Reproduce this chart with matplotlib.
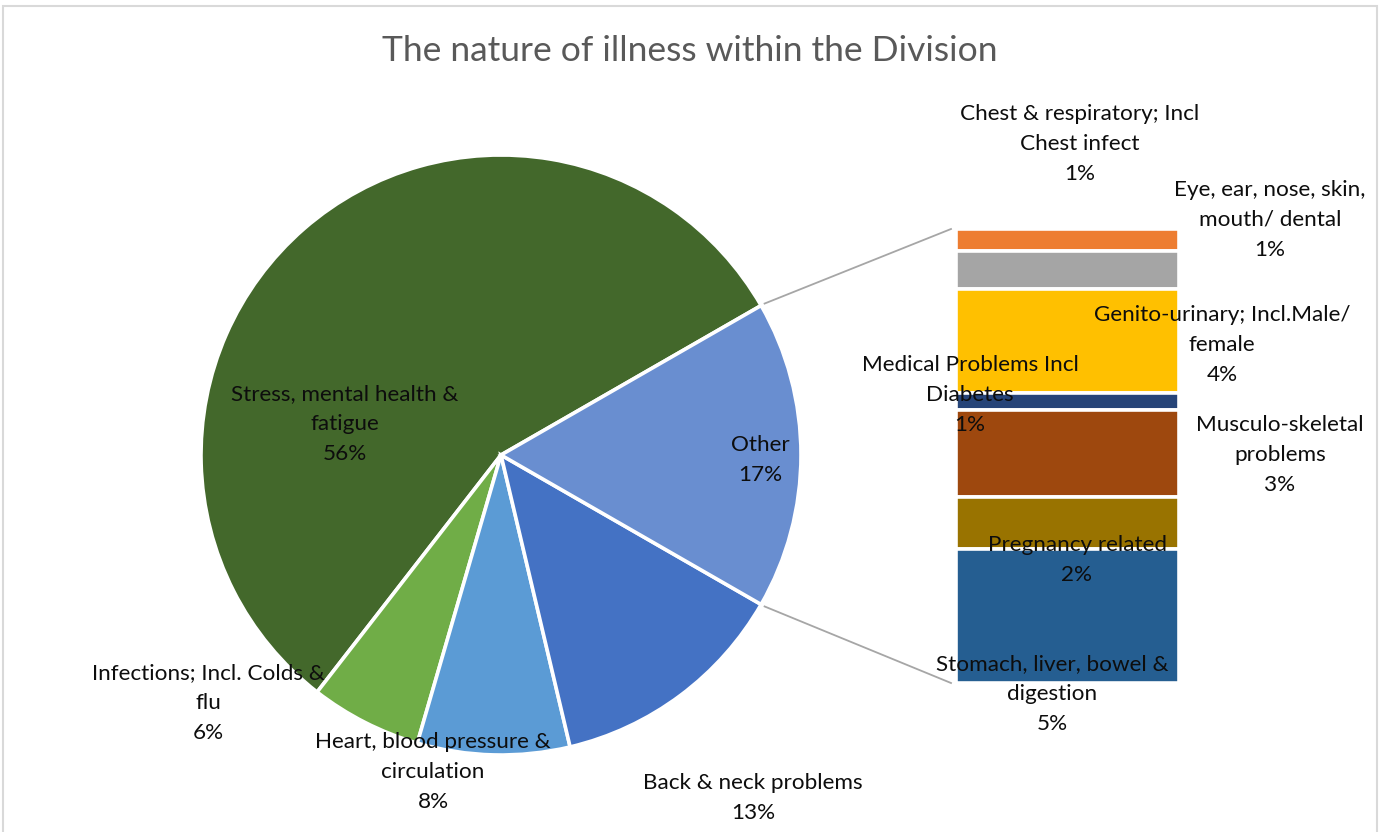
import numpy as np
import matplotlib
matplotlib.use("Agg")
import matplotlib.pyplot as plt
from matplotlib.lines import Line2D
from matplotlib.patches import Rectangle

# ---- data (percent of all illness cases) ----
pie_labels = ["Stress, mental health &\nfatigue",
              "Infections; Incl. Colds &\nflu",
              "Heart, blood pressure &\ncirculation",
              "Back & neck problems",
              "Other"]
pie_values = [56.2, 6.0, 8.2, 13.0, 16.6]
pie_colors = ["#43682B", "#70AD47", "#5B9BD5", "#4472C4", "#698ED0"]

# breakdown of "Other", listed top to bottom of the bar
bar_labels = ["Chest & respiratory; Incl\nChest infect",
              "Eye, ear, nose, skin,\nmouth/ dental",
              "Genito-urinary; Incl.Male/\nfemale",
              "Medical Problems Incl\nDiabetes",
              "Musculo-skeletal\nproblems",
              "Pregnancy related",
              "Stomach, liver, bowel &\ndigestion"]
bar_values = [0.8, 1.4, 3.8, 0.6, 3.2, 1.9, 4.9]
bar_colors = ["#ED7D31", "#A5A5A5", "#FFC000", "#264478",
              "#9E480E", "#997300", "#255E91"]

title = "The nature of illness within the Division"

W, H = 1384, 832
FONT = "Lato"
TXT = "#0D0D0D"
FS = 16.2
LS = 1.62
DY = 2  # small downward nudge applied to every data label

fig = plt.figure(figsize=(W / 100, H / 100), dpi=100)
fig.patch.set_facecolor("white")

# ---- stacked bar of the "Other" slice (drawn underneath the label layer) ----
bx0, bx1 = 956, 1179
btop, bbot = 229, 683
bax = fig.add_axes([bx0 / W, (H - bbot) / H, (bx1 - bx0) / W, (bbot - btop) / H])
bax.set_zorder(0)
sub_total = sum(bar_values)
bottom = sub_total
for v, c in zip(bar_values, bar_colors):
    bottom -= v
    bax.bar(0, v, bottom=bottom, width=1.0, color=c, edgecolor="white",
            linewidth=2.6, clip_on=False)
bax.set_xlim(-0.5, 0.5)
bax.set_ylim(0, sub_total)
bax.axis("off")

# full-figure axes in pixel units (y up) for pie, connectors and text
ax = fig.add_axes([0, 0, 1, 1])
ax.set_zorder(1)

total = sum(pie_values)
other_share = pie_values[-1] / total * 360.0
cx, cy, r = 501, H - 455, 300

ax.pie(pie_values, colors=pie_colors, center=(cx, cy), radius=r,
       startangle=other_share / 2, counterclock=True, frame=True,
       wedgeprops=dict(edgecolor="white", linewidth=2.6))
ax.set_xlim(0, W)
ax.set_ylim(0, H)
ax.set_aspect("auto")
ax.axis("off")

# chart frame
ax.add_patch(Rectangle((3, -10), 1374, H - 6 + 10, fill=False,
                       edgecolor="#D9D9D9", lw=1.5))


def pct(v, tot):
    return "%d%%" % int(np.floor(v / tot * 100 + 0.5))


# pie labels (pixel coordinates, y measured from top)
pie_label_pos = [(345, 422), (208, 701), (433, 770), (753, 796), (760, 458)]
for lab, v, (x, y) in zip(pie_labels, pie_values, pie_label_pos):
    ax.text(x, H - y - DY, lab + "\n" + pct(v, total), ha="center",
            va="center", fontsize=FS, family=FONT, color=TXT, linespacing=LS)

# connector lines from the "Other" slice edges to the bar corners
half = np.deg2rad(other_share / 2)
for sgn, yb in ((1, btop), (-1, bbot)):
    x0 = cx + (r + 4) * np.cos(half)
    y0 = cy + sgn * (r + 4) * np.sin(half)
    ax.add_line(Line2D([x0, bx0 - 5], [y0, H - yb], color="#A6A6A6", lw=1.3))

bar_label_pos = [(1080, 142), (1270, 218), (1222, 343), (970, 393),
                 (1280, 453), (1077, 558), (1052, 692)]
for lab, v, (x, y) in zip(bar_labels, bar_values, bar_label_pos):
    ax.text(x, H - y - DY, lab + "\n" + pct(v, total), ha="center",
            va="center", fontsize=FS, family=FONT, color=TXT,
            linespacing=LS, zorder=10)

ax.text(690, H - 51, title, ha="center", va="center", fontsize=25.5,
        family=FONT, color="#595959")

fig.savefig("out.png", dpi=100, facecolor="white")
